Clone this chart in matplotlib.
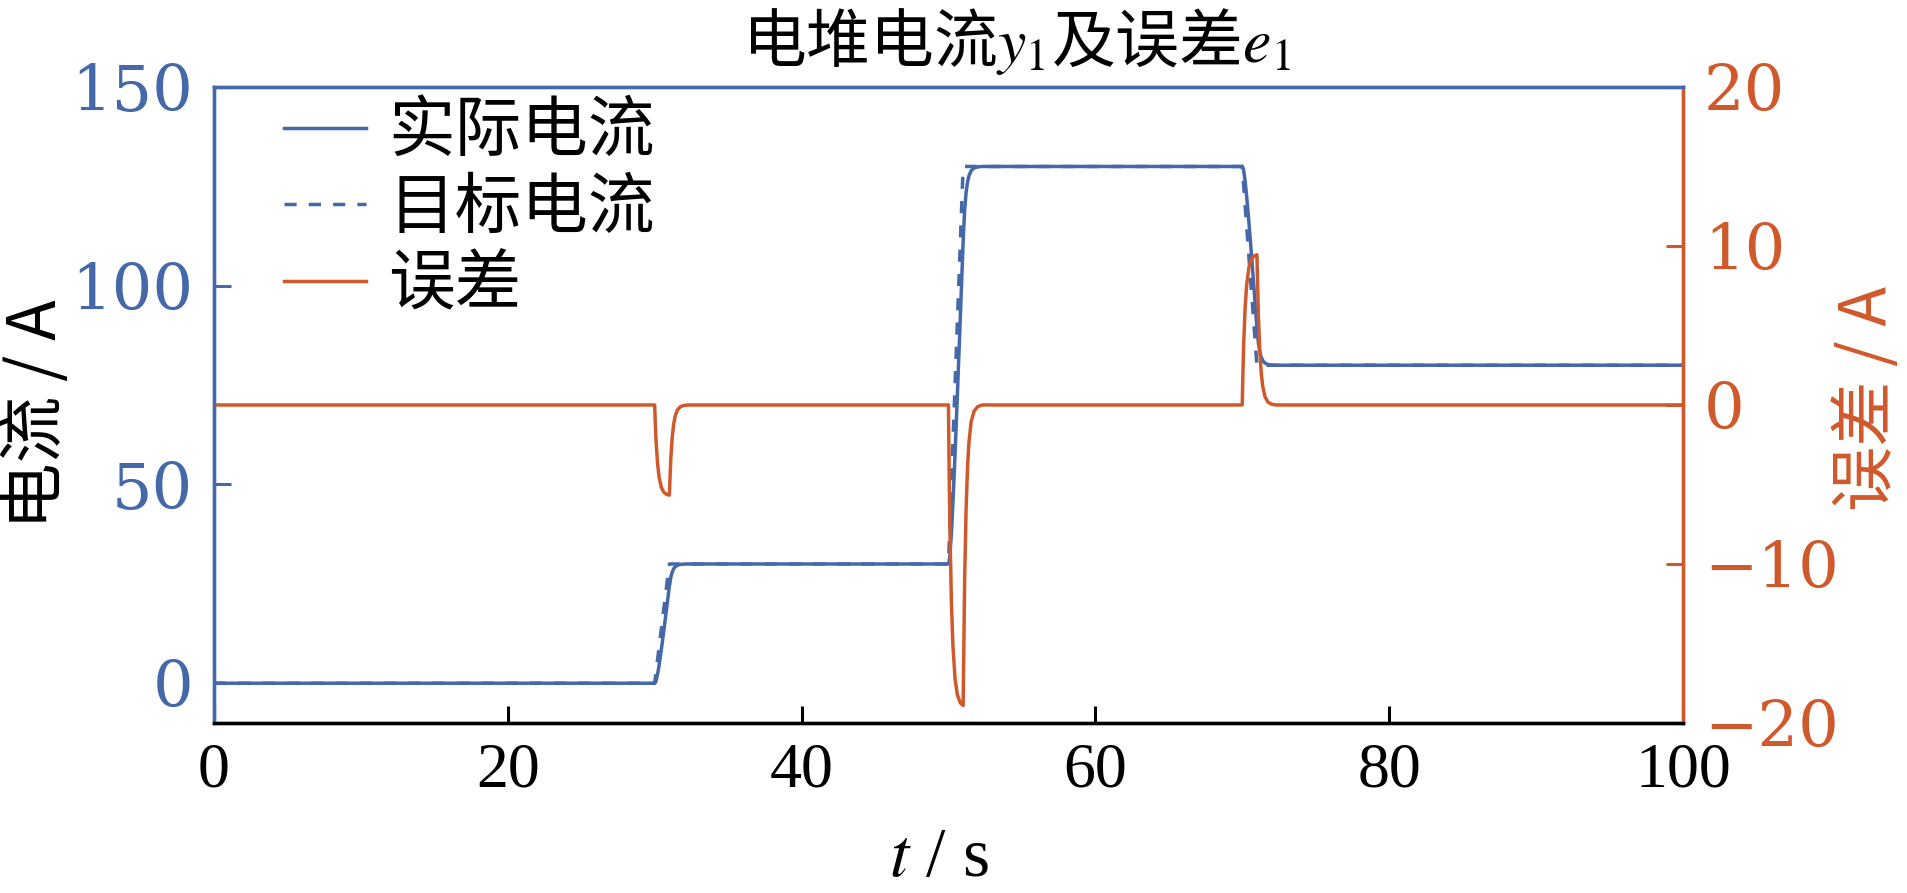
import matplotlib
matplotlib.use("Agg")
import matplotlib.pyplot as plt

plt.rcParams['font.family'] = ['Liberation Serif', 'Noto Sans CJK SC']
plt.rcParams['mathtext.fontset'] = 'stix'
plt.rcParams['axes.unicode_minus'] = True

# ---- data ----
t_target = [0, 30, 31, 50, 51, 70, 71, 100]
i_target = [0, 0, 30, 30, 130, 130, 80, 80]

t_sim = [0, 30.0, 30.05, 30.1, 30.2, 30.3, 30.45, 30.6, 30.8, 31.0, 31.1, 31.2, 31.3, 31.4, 31.55, 31.75, 32.0, 32.3,
         50.0, 50.05, 50.1, 50.2, 50.3, 50.45, 50.6, 50.8, 51.0, 51.1, 51.2, 51.3, 51.4, 51.55, 51.75, 52.0, 52.3,
         70.0, 70.05, 70.1, 70.2, 70.3, 70.45, 70.6, 70.8, 71.0, 71.1, 71.2, 71.3, 71.4, 71.55, 71.75, 72.0, 72.3, 100]
i_actual = [0, 0, 0.19, 0.66, 2.29, 4.48, 8.33, 12.54, 18.38, 24.33, 26.65, 28.02, 28.83, 29.31, 29.69, 29.89, 29.97, 30,
            30, 30.63, 32.2, 37.63, 44.93, 57.77, 71.8, 91.27, 111.1, 118.83, 123.4, 126.1, 127.7, 128.97, 129.63, 129.9, 130,
            130, 129.68, 128.9, 126.18, 122.53, 116.12, 109.1, 99.37, 89.45, 85.58, 83.3, 81.95, 81.15, 80.52, 80.18, 80.05, 80, 80]
err = [0, 0, -1.31, -2.34, -3.71, -4.52, -5.17, -5.46, -5.62, -5.67, -3.35, -1.98, -1.17, -0.69, -0.31, -0.11, -0.03, 0,
       0, -4.37, -7.8, -12.37, -15.07, -17.23, -18.2, -18.73, -18.9, -11.17, -6.6, -3.9, -2.3, -1.03, -0.37, -0.1, 0,
       0, 2.18, 3.9, 6.18, 7.53, 8.62, 9.1, 9.37, 9.45, 5.58, 3.3, 1.95, 1.15, 0.52, 0.18, 0.05, 0, 0]

x_ticks = [0, 20, 40, 60, 80, 100]
yl_ticks = [0, 50, 100, 150]
yr_ticks = [-20, -10, 0, 10, 20]

labels = ['实际电流', '目标电流', '误差']

BLUE = '#4468A8'
ORANGE = '#D0592B'
CJK = 'Noto Sans CJK SC'

fig = plt.figure(figsize=(19.07, 8.93), dpi=100)
ax = fig.add_axes([0.1122, 0.1904, 0.7703, 0.7122])
ax2 = ax.twinx()

l1, = ax.plot(t_sim, i_actual, color=BLUE, lw=2.5, label=labels[0])
l2, = ax.plot(t_target, i_target, color=BLUE, lw=2.5, ls=(0, (3.5, 3.5)), label=labels[1])
l3, = ax2.plot(t_sim, err, color=ORANGE, lw=2.5, label=labels[2])

ax.set_xlim(0, 100)
ax.set_ylim(-10, 150)
ax2.set_ylim(-20, 20)
ax.set_xticks(x_ticks)
ax.set_yticks(yl_ticks)
ax2.set_yticks(yr_ticks)

for a in (ax, ax2):
    for s in a.spines.values():
        s.set_linewidth(2.4)
    a.spines['left'].set_color(BLUE)
    a.spines['top'].set_color(BLUE)
    a.spines['right'].set_color(ORANGE)
    a.spines['bottom'].set_color('black')

ax.tick_params(axis='x', direction='in', length=12, width=2.2, color='black',
               labelsize=46, pad=14, top=False)
ax.tick_params(axis='y', direction='in', length=12, width=2.2, color=BLUE,
               labelcolor=BLUE, labelsize=46, pad=15, right=False)
ax2.tick_params(axis='y', direction='in', length=12, width=2.2, color=ORANGE,
                labelcolor=ORANGE, labelsize=46, pad=15)
for lab in ax.get_yticklabels() + ax2.get_yticklabels():
    lab.set_family('DejaVu Serif')

ax.set_ylabel('电流 / A', family=[CJK], fontsize=48, color='black')
ax2.set_ylabel('误差 / A', family=[CJK], fontsize=47, color=ORANGE)
ax.yaxis.label.set_va('center')
ax2.yaxis.label.set_va('center')
ax.yaxis.set_label_coords(-0.1205, 0.485)
ax2.yaxis.set_label_coords(1.126, 0.51)

ax.set_xlabel('$t$ / s', fontsize=50, color='black')
ax.xaxis.set_label_coords(0.4935, -0.165)

fig.text(0.533, 0.953, '电堆电流$y_1$及误差$e_1$', family=CJK, fontsize=46,
         ha='center', va='center')

leg = ax2.legend([l1, l2, l3], labels, loc='upper left', bbox_to_anchor=(0.048, 0.982),
                 frameon=False, prop={'family': CJK, 'size': 48}, handlelength=1.23,
                 handletextpad=0.33, labelspacing=0.14, borderpad=0, borderaxespad=0)

fig.savefig('out.png', dpi=100)
